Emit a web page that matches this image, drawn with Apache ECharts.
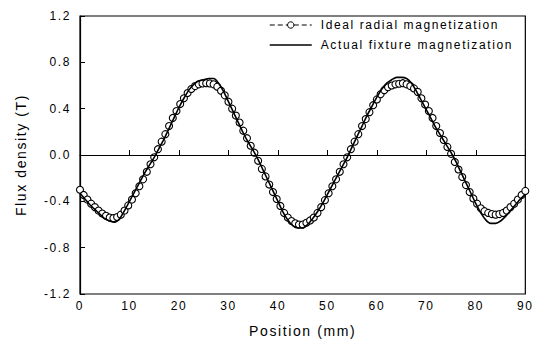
<!DOCTYPE html>
<html lang="en">
<head>
    <meta charset="UTF-8">
    <title>Flux density vs position</title>
    <script src="https://cdn.jsdelivr.net/npm/echarts@6/dist/echarts.min.js"></script>
    <style>
        body { margin: 0; background: #fff; }
        /* the original figure uses widely spaced lettering */
        #main text { letter-spacing: 1.6px; }
    </style>
</head>
<body>
<div id="main" style="width:535px; height:343px"></div>

<script type="text/javascript">
    // ideal radial magnetization (circles), sampled every 0.75 mm from 0 to 90
    var idealStep = 0.75;
    var idealValues = [
        -0.30, -0.345, -0.385, -0.42, -0.45, -0.48, -0.505, -0.525, -0.54, -0.545,
        -0.535, -0.515, -0.48, -0.435, -0.385, -0.33, -0.27, -0.21, -0.145, -0.08,
        -0.02, 0.05, 0.115, 0.18, 0.25, 0.32, 0.38, 0.44, 0.49, 0.535,
        0.57, 0.595, 0.61, 0.618, 0.62, 0.618, 0.61, 0.59, 0.555, 0.515,
        0.46, 0.40, 0.34, 0.28, 0.21, 0.145, 0.08, 0.02, -0.05, -0.12,
        -0.185, -0.255, -0.32, -0.38, -0.44, -0.50, -0.54, -0.57, -0.59, -0.60,
        -0.60, -0.585, -0.565, -0.54, -0.50, -0.45, -0.39, -0.33, -0.27, -0.21,
        -0.145, -0.08, -0.02, 0.05, 0.115, 0.18, 0.25, 0.31, 0.37, 0.43,
        0.48, 0.525, 0.56, 0.585, 0.60, 0.61, 0.615, 0.62, 0.61, 0.595,
        0.575, 0.545, 0.49, 0.435, 0.38, 0.32, 0.25, 0.19, 0.13, 0.07,
        0.01, -0.06, -0.125, -0.19, -0.26, -0.32, -0.375, -0.42, -0.46, -0.485,
        -0.50, -0.51, -0.515, -0.51, -0.50, -0.48, -0.45, -0.42, -0.385, -0.345,
        -0.31
    ];

    // actual fixture magnetization (solid line), every 1 mm from 0 to 90
    var actualStep = 1;
    var actualValues = [
        -0.33, -0.38, -0.43, -0.47, -0.51, -0.55, -0.57, -0.58, -0.55, -0.48,
        -0.40, -0.32, -0.24, -0.16, -0.09, -0.02, 0.06, 0.14, 0.23, 0.32,
        0.41, 0.49, 0.56, 0.61, 0.64, 0.65, 0.66, 0.66, 0.62, 0.55,
        0.46, 0.37, 0.28, 0.19, 0.11, 0.04, -0.04, -0.13, -0.22, -0.31,
        -0.40, -0.49, -0.56, -0.61, -0.63, -0.63, -0.60, -0.55, -0.49, -0.42,
        -0.34, -0.26, -0.18, -0.10, -0.02, 0.07, 0.16, 0.25, 0.34, 0.42,
        0.50, 0.57, 0.62, 0.65, 0.67, 0.67, 0.66, 0.62, 0.55, 0.47,
        0.39, 0.31, 0.23, 0.16, 0.09, 0.02, -0.06, -0.15, -0.24, -0.33,
        -0.42, -0.50, -0.56, -0.59, -0.59, -0.57, -0.53, -0.48, -0.43, -0.38,
        -0.34
    ];

    var seriesNames = ['Ideal radial magnetization', 'Actual fixture magnetization'];

    function pairs(step, ys) {
        return ys.map(function (y, k) { return [k * step, y]; });
    }

    var myChart = echarts.init(document.getElementById('main'), null, { renderer: 'svg' });
    var font = 'Liberation Sans';

    var option = {
        animation: false,
        backgroundColor: '#fff',
        grid: {
            left: 80, right: 8, top: 16, bottom: 49,
            show: true, borderColor: '#000', borderWidth: 1.2
        },
        legend: {
            orient: 'vertical',
            left: 264,
            top: 14,
            itemGap: 8,
            itemWidth: 42,
            itemHeight: 8,
            textStyle: { fontFamily: font, fontSize: 12, color: '#000', padding: [0, 0, 0, 4] },
            data: [
                {
                    name: seriesNames[0],
                    itemStyle: { color: '#fff', borderColor: '#000', borderWidth: 1 },
                    lineStyle: { type: [5, 3], color: '#000', width: 1, opacity: 1 }
                },
                {
                    name: seriesNames[1],
                    itemStyle: { opacity: 0 },
                    lineStyle: { color: '#000', width: 1.5 }
                }
            ]
        },
        xAxis: {
            type: 'value',
            min: 0, max: 90, interval: 10,
            name: 'Position (mm)',
            nameLocation: 'middle',
            nameGap: 30,
            nameTextStyle: { fontFamily: font, fontSize: 14, color: '#000' },
            axisLine: { lineStyle: { color: '#000', width: 1.2 } },
            axisTick: { inside: true, length: 5, lineStyle: { color: '#000' } },
            axisLabel: { fontFamily: font, fontSize: 12, color: '#000', margin: 6 },
            splitLine: { show: false }
        },
        yAxis: {
            type: 'value',
            min: -1.2, max: 1.2, interval: 0.4,
            name: 'Flux density (T)',
            nameLocation: 'middle',
            nameGap: 52,
            nameTextStyle: { fontFamily: font, fontSize: 14, color: '#000' },
            axisLine: { lineStyle: { color: '#000', width: 1.2 } },
            axisTick: { inside: true, length: 5, lineStyle: { color: '#000' } },
            axisLabel: {
                fontFamily: font, fontSize: 12, color: '#000', margin: 9,
                formatter: function (v) { return v.toFixed(1); }
            },
            splitLine: { show: false }
        },
        series: [
            {
                name: seriesNames[0],
                type: 'line',
                data: pairs(idealStep, idealValues),
                symbol: 'circle',
                symbolSize: 7,
                showAllSymbol: true,
                itemStyle: { color: '#fff', borderColor: '#000', borderWidth: 1.1 },
                lineStyle: { width: 0, opacity: 0 },
                z: 3
            },
            {
                name: seriesNames[1],
                type: 'line',
                data: pairs(actualStep, actualValues),
                smooth: 0.3,
                symbol: 'none',
                lineStyle: { color: '#000', width: 1.6 },
                z: 4,
                markLine: {
                    silent: true,
                    symbol: 'none',
                    label: { show: false },
                    lineStyle: { color: '#000', width: 1.2, type: 'solid' },
                    data: [{ yAxis: 0 }]
                }
            }
        ]
    };

    myChart.setOption(option);
</script>
</body>
</html>
